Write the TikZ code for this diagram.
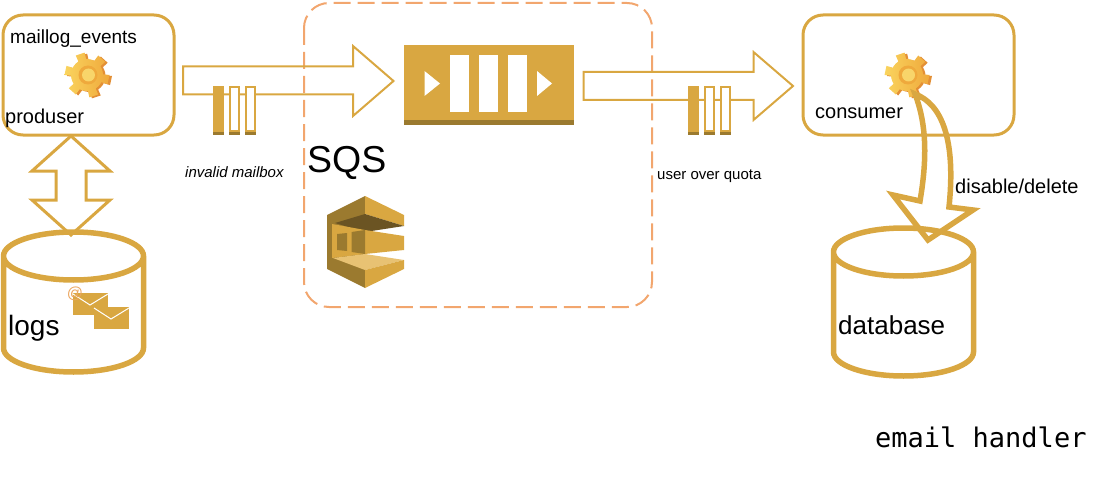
\documentclass[tikz,border=0pt]{standalone}
\usepackage{fontspec}
\setmainfont{Liberation Sans}
\setmonofont{DejaVu Sans Mono}
\definecolor{gold}{HTML}{D9A741}
\definecolor{golddark}{HTML}{9B7A2F}
\definecolor{goldlight}{HTML}{E8C273}
\definecolor{goldshade}{HTML}{6B5423}
\definecolor{peach}{HTML}{F2A66E}
\definecolor{cogfront}{HTML}{FAD45E}
\definecolor{cogright}{HTML}{EFA93C}
\definecolor{cogside}{HTML}{E38F35}
\definecolor{coghole}{HTML}{F8D56A}
\tikzset{
  lbl/.style={anchor=base west,inner sep=0pt,text=black},
  boxline/.style={draw=gold,line width=3pt,rounded corners=20pt},
  barrow/.style={draw=gold,line width=2pt,line join=miter},
  cyl/.style={draw=gold,line width=5.5pt},
  queuebar/.style={draw=gold,line width=2pt,fill=white},
  cog/.pic={
    \fill [cogside] (2.5,1) circle (16)
      foreach \a in {12,72,...,332} {
        [shift={(2.5,1)}] (\a-16:14) -- (\a-12:22.5) -- (\a+12:22.5) -- (\a+16:14) -- cycle };
    \shade [left color=cogfront,right color=cogright] (0,0) circle (16)
      foreach \a in {12,72,...,332} {
        (\a-16:14) -- (\a-12:22.5) -- (\a+12:22.5) -- (\a+16:14) -- cycle };
    \fill [cogright] (1,0) circle (9.5);
    \fill [coghole] (1.5,0) circle (6.5);
  }
}
\newcommand{\smallqueue}[1]{
   \fill [gold] (#1,86) rectangle ++(11,49);
   \draw [queuebar] (#1+17,87) rectangle ++(9,44);
   \draw [queuebar] (#1+32.5,87) rectangle ++(9,44);
   \fill [golddark] (#1,132) rectangle ++(11,3);
   \fill [golddark] (#1+16,132) rectangle ++(11,3);
   \fill [golddark] (#1+31.5,132) rectangle ++(11,3);
}
\newcommand{\mailicon}[2]{
   \fill [gold] (#1,#2) rectangle ++(35,22);
   \draw [white,line width=1pt] (#1,#2+1) -- ++(17,11) -- ++(18,-11);
}
\begin{document}
\begin{tikzpicture}[x=1pt,y=-1pt]
   \useasboundingbox (0,0) rectangle (1104,503);
   % sqs frame
   \draw [draw=peach,line width=2pt,rounded corners=25pt,dash pattern=on 17pt off 7pt] (304,3) rectangle (652,307);
   % boxes
   \draw [boxline] (3,15) rectangle (174,135);
   \draw [boxline] (803,15) rectangle (1014,135);
   % block arrows
   \draw [barrow] (183,66.5) -- (353,66.5) -- (353,46) -- (393.5,81) -- (353,116) -- (353,94.5) -- (183,94.5) -- cycle;
   \draw [barrow] (583.5,72) -- (753.5,72) -- (753.5,52) -- (793,86) -- (753.5,120) -- (753.5,100) -- (583.5,100) -- cycle;
   \draw [draw=gold,line width=3pt] (71,136) -- (110,171) -- (86,171) -- (86,200) -- (110,200) -- (71,235) -- (32,200) -- (56,200) -- (56,171) -- (32,171) -- cycle;
   % small queues
   \smallqueue{213}
   \smallqueue{688}
   % big queue
   \fill [gold] (403.5,45) rectangle (574,120);
   \fill [golddark] (403.5,120) rectangle (574,125);
   \foreach \x in {450,479,508}
      \fill [white] (\x,55) rectangle ++(18.5,57);
   \fill [white] (424.5,71) -- (440,83.5) -- (424.5,96) -- cycle;
   \fill [white] (537,71) -- (552,83.5) -- (537,96) -- cycle;
   % sqs icon
   \fill [golddark] (327,215) -- (365,196) -- (365,288) -- (327,269) -- cycle;
   \fill [gold] (365,196) -- (404,215) -- (404,226) -- (365,214) -- cycle;
   \fill [goldshade] (335,223) -- (365,214) -- (404,226) -- (365,232) -- cycle;
   \fill [gold] (332,224) -- (365,230) -- (404,236) -- (404,250) -- (365,254) -- (332,258) -- cycle;
   \fill [golddark] (337,234) -- (347,233) -- (347,251) -- (337,250) -- cycle;
   \fill [golddark] (351.5,232) -- (365,230) -- (365,254) -- (351.5,252) -- cycle;
   \fill [goldlight] (333,258) -- (365,254) -- (404,260) -- (365,270) -- cycle;
   \fill [gold] (365,270) -- (404,260) -- (404,269) -- (365,288) -- cycle;
   % cylinders
   \draw [cyl] (3.5,256) arc (180:-180:70 and 24) -- (3.5,348) arc (180:0:70 and 24) -- (143.5,256);
   \draw [cyl] (833.5,252) arc (180:-180:70 and 24) -- (833.5,352) arc (180:0:70 and 24) -- (973.5,252);
   % mail icon
   \mailicon{73}{293}
   \mailicon{94}{307}
   \node (at) [inner sep=0pt,text=peach!70!gold,font=\fontsize{16}{16}\selectfont] at (75,294) {@};
   % cogs
   \pic at (87,75) {cog};
   \pic at (907,75) {cog};
   % curved arrow
   \draw [draw=gold,line width=5.5pt,line join=miter] (915,94) .. controls (942,104) and (956,140) .. (949,207) -- (973,210) -- (928,240) -- (893,195) -- (920,201) .. controls (927,160) and (927,125) .. (915,94) -- cycle;
   % labels
   \node (maillog) [lbl,font=\fontsize{19}{19}\selectfont] at (10,44) {maillog\_events};
   \node (produser) [lbl,font=\fontsize{20}{20}\selectfont] at (5,123) {produser};
   \node (invalid) [lbl,font=\fontsize{15}{15}\selectfont\itshape] at (185,177) {invalid mailbox};
   \node (quota) [lbl,font=\fontsize{15}{15}\selectfont] at (657,179) {user over quota};
   \node (sqs) [lbl,font=\fontsize{37.5}{37.5}\selectfont] at (307,172) {SQS};
   \node (logs) [lbl,font=\fontsize{28}{28}\selectfont] at (8,335) {logs};
   \node (database) [lbl,font=\fontsize{26}{26}\selectfont] at (838,334) {database};
   \node (consumer) [lbl,font=\fontsize{20}{20}\selectfont] at (815,118) {consumer};
   \node (disable) [lbl,font=\fontsize{20}{20}\selectfont] at (955,193) {disable/delete};
   \node (handler) [lbl,font=\fontsize{27}{27}\selectfont\ttfamily] at (875,447) {email handler};
\end{tikzpicture}
\end{document}
